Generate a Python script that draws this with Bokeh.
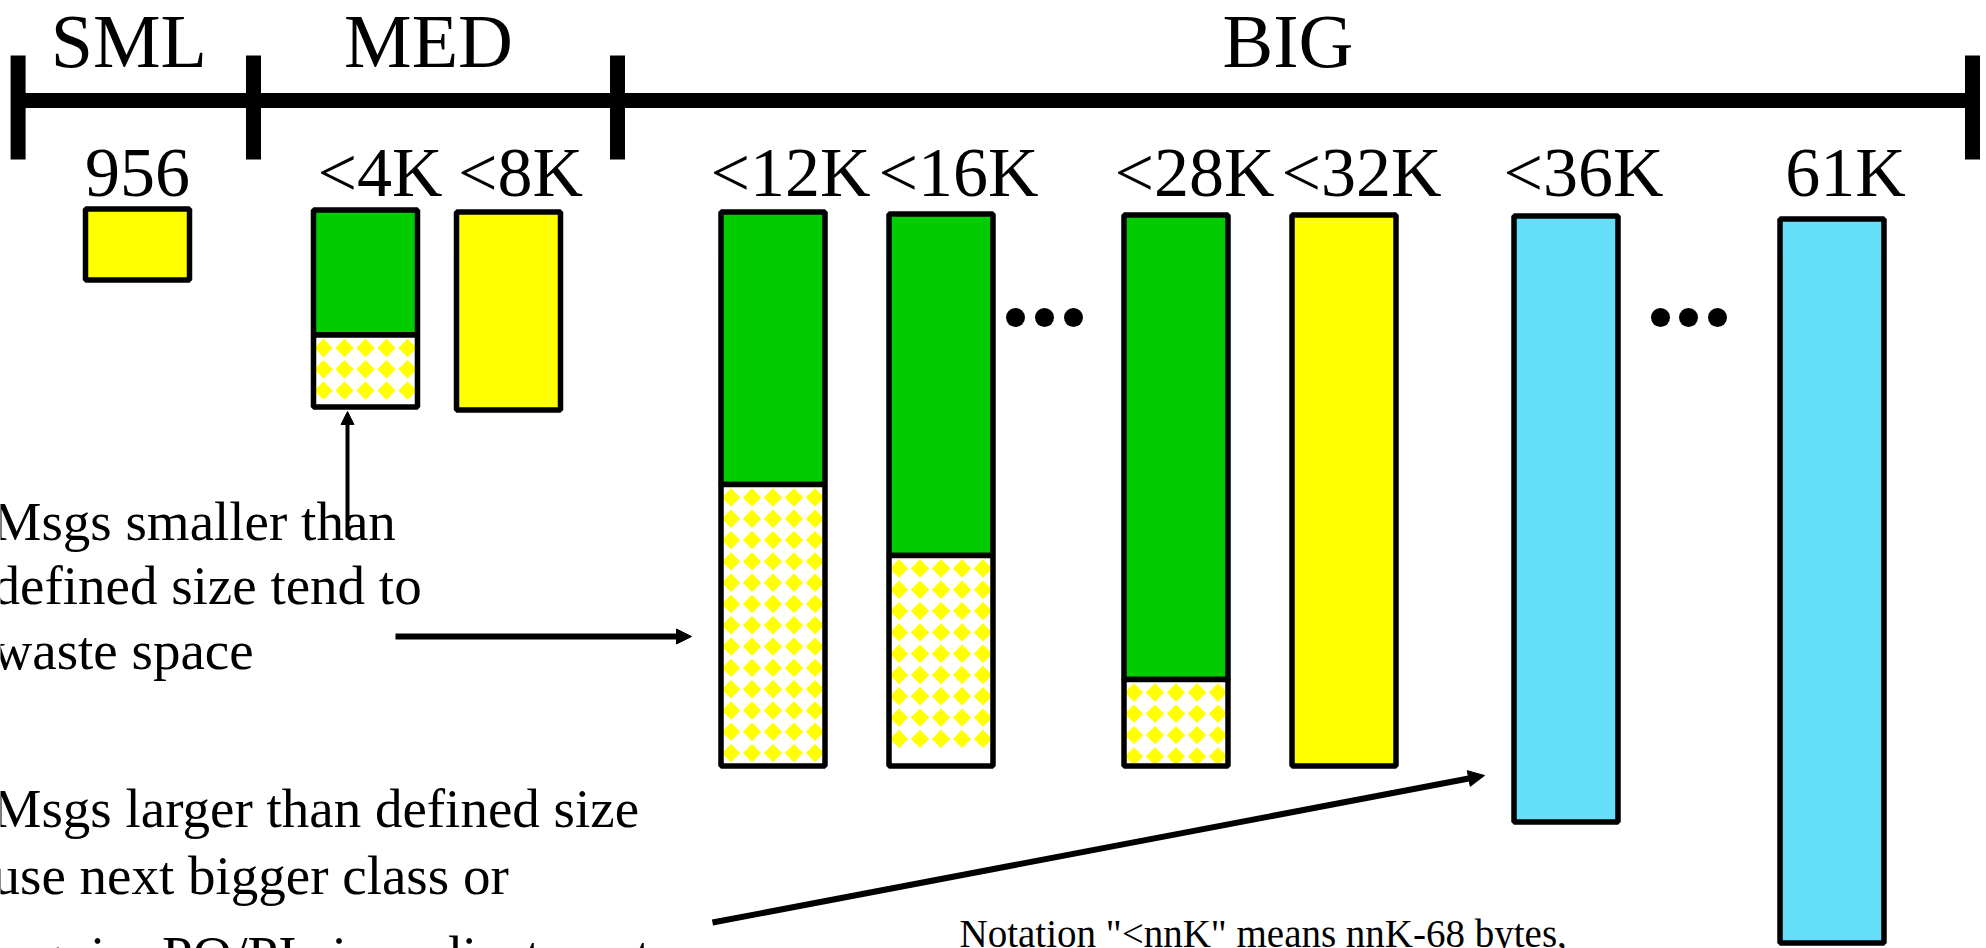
import numpy as np
from bokeh.plotting import figure
from bokeh.models import Range1d, Arrow, NormalHead
from bokeh.core.properties import value
from bokeh.embed import file_html
from bokeh.resources import INLINE

# ---------------- data ----------------
class_names = ["SML", "MED", "BIG"]
class_edges = [17.6, 253, 617, 1972]          # boundaries of the size classes

size_labels = ["956", "<4K", "<8K", "<12K", "<16K", "<28K", "<32K", "<36K", "61K"]
bar_kind = ["fit", "waste", "fit", "waste", "waste", "waste", "fit", "over", "over"]
bar_top = [208.5, 209.5, 211.5, 211.5, 213.5, 214.5, 214.5, 215.5, 218.5]
bar_bottom = [279.5, 406.5, 409.5, 765.5, 765.5, 765.5, 765.5, 821.5, 942.5]
used_end = [279.5, 334.5, 409.5, 484.0, 555.0, 679.0, 765.5, 821.5, 942.5]

note_small = ["Msgs smaller than", "defined size tend to", "waste space"]
note_large = ["Msgs larger than defined size", "use next bigger class or",
              "require PO/PI size adjustments"]
notation = 'Notation "<nnK" means nnK-68 bytes,'

# ---------------- layout / style ----------------
bar_x = [137, 365, 508, 772.5, 940.5, 1175.5, 1343.5, 1565.5, 1831.5]
label_dx = [0, 14.5, 12, 17.5, 17.5, 18.5, 17.5, 17.5, 13.5]
half_w = 52
kind_color = {"fit": "#FFFF00", "waste": "#00CC00", "over": "#66E0FA"}
FONT = value("Liberation Serif")
BASE_FIX = 0.31   # baseline correction (fraction of font size)
BORDER = 5.5


def base(ys, fs):
    return [y - BASE_FIX * fs for y in ys]


W, H = 1986, 948
p = figure(width=W, height=H, x_range=Range1d(0, W), y_range=Range1d(H, 0),
           output_backend="svg", toolbar_location=None, min_border=0,
           x_axis_location=None, y_axis_location=None)
p.grid.visible = False
p.outline_line_color = None
p.background_fill_color = "white"
p.border_fill_color = "white"

# ----- class scale (thick line with ticks) -----
p.segment(x0=[class_edges[0]], y0=[100], x1=[class_edges[-1]], y1=[100],
          line_width=15, line_color="black", line_cap="butt")
p.segment(x0=class_edges, y0=[55] * len(class_edges), x1=class_edges,
          y1=[159] * len(class_edges), line_width=15, line_color="black", line_cap="butt")
mids = [(a + b) / 2 for a, b in zip(class_edges[:-1], class_edges[1:])]
p.text(x=mids, y=base([64] * 3, 76), text=class_names, text_align="center",
       text_baseline="alphabetic", text_font=FONT, text_font_size="76px",
       text_color="black", x_offset=-7)

# ----- size labels -----
p.text(x=[x + d for x, d in zip(bar_x, label_dx)], y=base([194] * len(size_labels), 70),
       text=size_labels, text_align="center", text_baseline="alphabetic",
       text_font=FONT, text_font_size="70px", text_color="black")

# ----- bars -----
left = [x - half_w for x in bar_x]
right = [x + half_w for x in bar_x]
colors = [kind_color[k] for k in bar_kind]
p.quad(left=left, right=right, top=bar_top, bottom=used_end,
       fill_color=colors, line_color="black", line_width=BORDER)

wi = [i for i, k in enumerate(bar_kind) if k == "waste"]
wl = [left[i] for i in wi]
wr = [right[i] for i in wi]
wt = [used_end[i] for i in wi]
wb = [bar_bottom[i] for i in wi]
p.quad(left=wl, right=wr, top=wt, bottom=wb, fill_color="white", line_color=None)

# diamond pattern in wasted space
dx, dy = [], []
for i in wi:
    cols = bar_x[i] + np.array([-42, -21, 0, 21, 42])
    rows = np.arange(used_end[i] + 13, bar_bottom[i] - 8, 21.3)
    for r in rows:
        for c in cols:
            dx.append(c)
            dy.append(r)
p.scatter(x=dx, y=dy, marker="square", size=13, angle=np.pi / 4,
          fill_color="#FFFF00", line_color=None)

p.quad(left=wl, right=wr, top=wt, bottom=wb, fill_color=None,
       line_color="black", line_width=BORDER)

# ----- ellipses between bars -----
ell_x = [1015, 1044, 1073, 1660, 1688, 1717]
p.scatter(x=ell_x, y=[317] * len(ell_x), marker="circle", size=19,
          fill_color="black", line_color=None)

# ----- explanatory text -----
p.text(x=[-8] * 3, y=base([538, 602, 667], 55), text=note_small, text_align="left",
       text_baseline="alphabetic", text_font=FONT, text_font_size="55px",
       text_color="black")
p.text(x=[-8] * 3, y=base([825, 892, 972], 55), text=note_large, text_align="left",
       text_baseline="alphabetic", text_font=FONT, text_font_size="55px",
       text_color="black")
p.text(x=[959], y=base([945], 39), text=[notation], text_align="left",
       text_baseline="alphabetic", text_font=FONT, text_font_size="39px",
       text_color="black")

# ----- arrows -----
p.add_layout(Arrow(x_start=347, y_start=537, x_end=347, y_end=411, line_width=4,
                   line_color="black",
                   end=NormalHead(size=13, fill_color="black", line_color="black")))
p.add_layout(Arrow(x_start=395, y_start=636, x_end=691, y_end=636, line_width=6,
                   line_color="black",
                   end=NormalHead(size=15, fill_color="black", line_color="black")))
p.add_layout(Arrow(x_start=712, y_start=922, x_end=1484, y_end=775, line_width=6,
                   line_color="black",
                   end=NormalHead(size=16, fill_color="black", line_color="black")))

open("out.html", "w").write(file_html(p, INLINE))
